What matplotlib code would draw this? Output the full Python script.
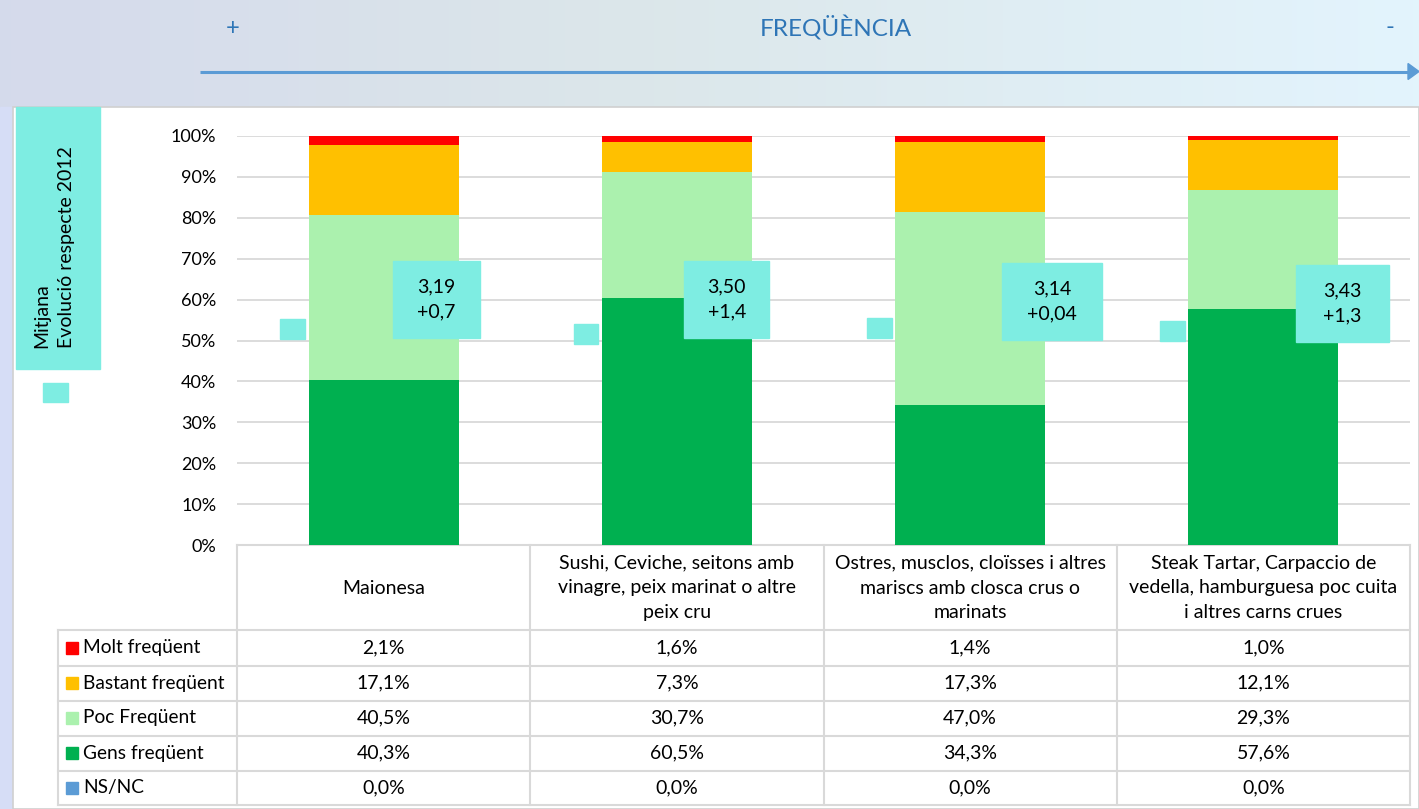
import matplotlib
matplotlib.use("Agg")
import matplotlib.pyplot as plt
import numpy as np
from matplotlib.patches import Rectangle, Polygon

# ---------------- data ----------------
categories = [
    "Maionesa",
    "Sushi, Ceviche, seitons amb\nvinagre, peix marinat o altre\npeix cru",
    "Ostres, musclos, cloïsses i altres\nmariscs amb closca crus o\nmarinats",
    "Steak Tartar, Carpaccio de\nvedella, hamburguesa poc cuita\ni altres carns crues",
]
series_names = ["Molt freqüent", "Bastant freqüent", "Poc Freqüent", "Gens freqüent", "NS/NC"]
molt = [2.1, 1.6, 1.4, 1.0]
bastant = [17.1, 7.3, 17.3, 12.1]
poc = [40.5, 30.7, 47.0, 29.3]
gens = [40.3, 60.5, 34.3, 57.6]
nsnc = [0.0, 0.0, 0.0, 0.0]
mitjana = ["3,19", "3,50", "3,14", "3,43"]
evolucio = ["+0,7", "+1,4", "+0,04", "+1,3"]
marker_pos = [52.8, 51.6, 53.0, 52.3]      # small mean markers (% axis)
label_pos = [60.0, 60.0, 59.5, 59.0]       # centre of value boxes (% axis)
yticks = list(range(0, 101, 10))

colors = ["#FF0000", "#FFC000", "#ABF1AE", "#00B050", "#5B9BD5"]
cyan = "#7EEDE2"
grid_c = "#D9D9D9"
FONT = "Lato"

W, H = 1419, 809
fig = plt.figure(figsize=(W / 100, H / 100), dpi=100)

# ---------------- background (pixel coords) ----------------
bg = fig.add_axes([0, 0, 1, 1])
bg.set_xlim(0, W)
bg.set_ylim(H, 0)
bg.axis("off")
grad = np.linspace(0, 1, 256)
c0 = np.array([0.835, 0.855, 0.925])
c1 = np.array([0.862, 0.905, 0.918])
c2 = np.array([0.890, 0.957, 0.992])
img = np.zeros((1, 256, 3))
for i, t in enumerate(grad):
    if t < 0.45:
        img[0, i] = c0 + (c1 - c0) * t / 0.45
    else:
        img[0, i] = c1 + (c2 - c1) * (t - 0.45) / 0.55
bg.imshow(img, extent=[0, W, H, 0], aspect="auto", zorder=0)
bg.add_patch(Rectangle((0, 107), 13, H - 107, color="#D6DDF6", zorder=1))
bg.add_patch(Rectangle((13, 107), W - 13, H - 107, facecolor="white",
                       edgecolor="#D0D0D0", lw=1.2, zorder=1))
# header arrow
bg.plot([200, 1410], [71.5, 71.5], color="#5B9BD5", lw=2.2, zorder=3, solid_capstyle="butt")
bg.add_patch(Polygon([[1408, 63.5], [1419, 71.5], [1408, 79.5]], closed=True,
                     color="#5B9BD5", zorder=3))
bg.text(233, 28, "+", color="#2E75B6", fontsize=17, ha="center", va="center", family=FONT, zorder=3)
bg.text(1390, 27, "-", color="#2E75B6", fontsize=17, ha="center", va="center", family=FONT, zorder=3)
bg.text(836, 28, "FREQÜÈNCIA", color="#2E75B6", fontsize=17.5, ha="center", va="center",
        family=FONT, zorder=3)
# left label box
bg.add_patch(Rectangle((16, 107), 84, 262, color=cyan, zorder=2))
bg.text(54, 348, "Mitjana\nEvolució respecte 2012", rotation=90, ha="center", va="bottom",
        multialignment="left", fontsize=14, family=FONT, zorder=3, linespacing=1.6)
bg.add_patch(Rectangle((43, 383), 25, 19, color=cyan, zorder=2))

# ---------------- bars ----------------
x0, x1, y0, y1 = 237, 1410, 136, 545
ax = fig.add_axes([x0 / W, (H - y1) / H, (x1 - x0) / W, (y1 - y0) / H])
ax.set_facecolor("none")
ax.set_xlim(-0.5, 3.5)
ax.set_ylim(0, 100)
x = np.arange(len(categories))
bw = 0.512
bottom = np.zeros(4)
for vals, c in zip([gens, poc, bastant, molt], [colors[3], colors[2], colors[1], colors[0]]):
    ax.bar(x, vals, bw, bottom=bottom, color=c, zorder=2)
    bottom += np.array(vals)
ax.set_yticks(yticks)
ax.set_yticklabels([f"{v}%" for v in yticks], fontsize=13, family=FONT)
ax.tick_params(axis="y", length=0, pad=15)
ax.set_xticks([])
ax.grid(axis="y", color=grid_c, lw=1.3, zorder=0)
for s in ax.spines.values():
    s.set_visible(False)

# mean markers and value boxes
mw, mh = 0.085, 4.8
box_off = [0.18, 0.17, 0.28, 0.27]
box_w = [0.295, 0.29, 0.34, 0.32]
box_h = 18.8
for i in range(4):
    ax.add_patch(Rectangle((x[i] - 0.31 - mw / 2, marker_pos[i] - mh / 2), mw, mh,
                           color=cyan, zorder=3))
    cx = x[i] + box_off[i]
    ax.add_patch(Rectangle((cx - box_w[i] / 2, label_pos[i] - box_h / 2), box_w[i], box_h,
                           color=cyan, zorder=4))
    ax.text(cx, label_pos[i], f"{mitjana[i]}\n{evolucio[i]}", ha="center", va="center",
            fontsize=14, family=FONT, zorder=5, linespacing=1.55)

# ---------------- table (pixel coords) ----------------
tb_line = dict(color="#D9D9D9", lw=1.5, zorder=3)
col_edges = [x0 + (x1 - x0) * k / 4 for k in range(5)]
row_edges = [630, 665.5, 700.5, 735.5, 770.5, 805]
for xe in col_edges:
    bg.plot([xe, xe], [545, 805], **tb_line)
bg.plot([x0, x1], [545, 545], **tb_line)
for ye in row_edges:
    bg.plot([58, x1], [ye, ye], **tb_line)
bg.plot([58, 58], [630, 805], **tb_line)
for k, cat in enumerate(categories):
    cx = (col_edges[k] + col_edges[k + 1]) / 2
    bg.text(cx, 588, cat, ha="center", va="center", fontsize=14, family=FONT,
            linespacing=1.55, zorder=4)
table_vals = [molt, bastant, poc, gens, nsnc]
for r, (name, vals) in enumerate(zip(series_names, table_vals)):
    cy = (row_edges[r] + row_edges[r + 1]) / 2
    bg.add_patch(Rectangle((66, cy - 6), 12, 12, color=colors[r], zorder=4))
    bg.text(83, cy, name, ha="left", va="center", fontsize=13.8, family=FONT, zorder=4)
    for k, v in enumerate(vals):
        cx = (col_edges[k] + col_edges[k + 1]) / 2
        bg.text(cx, cy, f"{v:.1f}%".replace(".", ","), ha="center", va="center",
                fontsize=14, family=FONT, zorder=4)

fig.savefig("out.png", dpi=100)
